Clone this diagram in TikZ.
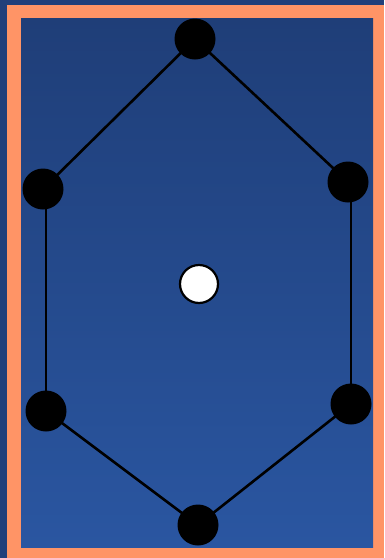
\documentclass[tikz,border=0pt]{standalone}
\usetikzlibrary{backgrounds}
\begin{document}
\begin{tikzpicture}[x=1pt,y=-1pt,
  blk/.style={circle,fill=black,minimum size=41pt,inner sep=0pt},
  wht/.style={circle,fill=white,draw=black,line width=2.2pt,minimum size=38pt,inner sep=0pt},
  edge/.style={black,line width=2.6pt}]
\definecolor{outerblue}{HTML}{213F7A}
\definecolor{topblue}{HTML}{1F3E78}
\definecolor{botblue}{HTML}{2A56A1}
\definecolor{frameorange}{HTML}{FF9466}
\useasboundingbox (0,0) rectangle (384,558);
\node[blk] (t) at (195,39) {};
\node[blk] (l) at (43,189) {};
\node[blk] (r) at (348,182) {};
\node[blk] (bl) at (46,411) {};
\node[blk] (br) at (351,404) {};
\node[blk] (b) at (198,525) {};
\node[wht] (c) at (199,284) {};
\begin{scope}[on background layer]
\fill[outerblue] (0,0) rectangle (384,558);
\fill[frameorange] (7,5) rectangle (384,558);
\shade[top color=topblue,bottom color=botblue] (21,18) rectangle (373,547);
\draw[edge] (t.center) -- (l.center);
\draw[edge] (t.center) -- (r.center);
\draw[edge] (bl |- l.center) -- (bl.center);
\draw[edge] (br |- r.center) -- (br.center);
\draw[edge] (bl.center) -- (b.center);
\draw[edge] (br.center) -- (b.center);
\end{scope}
\end{tikzpicture}
\end{document}
